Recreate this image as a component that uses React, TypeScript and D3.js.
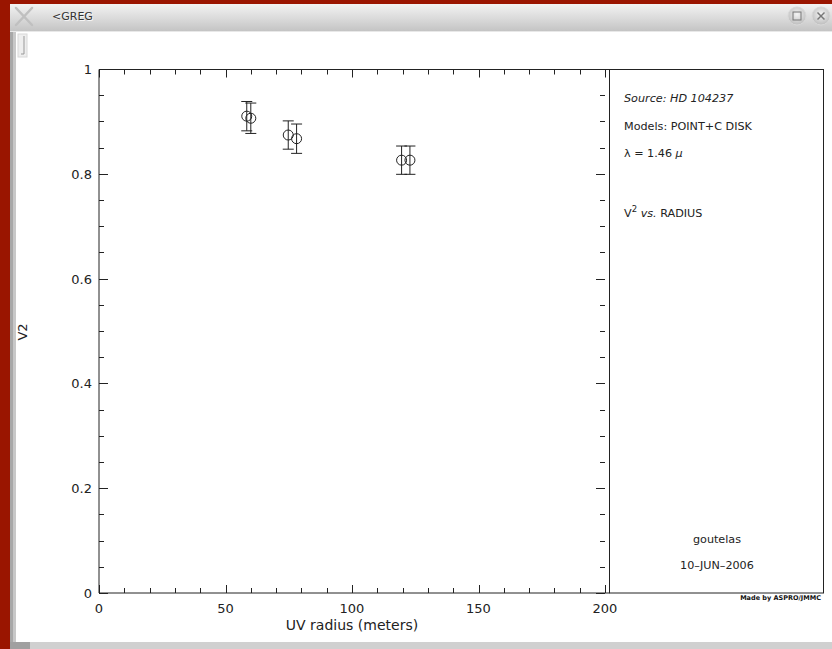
import * as d3 from 'd3';
import React from 'react';

// measured points (V^2 vs UV radius)
const uvRadius = [58.4, 60.0, 74.8, 78.1, 119.6, 122.9];
const v2 = [0.910, 0.906, 0.874, 0.867, 0.826, 0.826];
const v2Err = [0.028, 0.029, 0.027, 0.028, 0.027, 0.027];

const xMajor = [0, 50, 100, 150, 200];
const yMajor = [0, 0.2, 0.4, 0.6, 0.8, 1];
const yLabels = ['0', '0.2', '0.4', '0.6', '0.8', '1'];

const panelLines = ['Source: HD 104237', 'Models: POINT+C DISK'];
const footLines = ['goutelas', '10\u2013JUN\u20132006'];

const W = 832;
const H = 649;
const font = "'DejaVu Sans', sans-serif";

function App() {
  const x = d3.scaleLinear().domain([0, 200]).range([99, 605]);
  const y = d3.scaleLinear().domain([0, 1]).range([593, 69]);
  const xMinor = d3.range(0, 201, 10);
  const yMinor = d3.range(0, 1.001, 0.05);
  const isMajorX = (v: number) => Math.abs(v % 50) < 1e-6;
  const isMajorY = (v: number) => Math.abs(Math.round(v * 5) - v * 5) < 1e-6;
  const left = 99, right = 609.5, top = 69.5, bottom = 593;
  const ink = '#222';

  return (
    <div style={{ position: 'absolute', left: 0, top: 0 }}>
      <svg width={W} height={H} style={{ display: 'block' }}>
        <defs>
          <linearGradient id="tbar" x1="0" y1="0" x2="0" y2="1">
            <stop offset="0" stopColor="#f2f2f2" />
            <stop offset="0.5" stopColor="#dcdcdc" />
            <stop offset="1" stopColor="#c4c4c4" />
          </linearGradient>
          <radialGradient id="btn" cx="0.5" cy="0.4" r="0.6">
            <stop offset="0" stopColor="#f4f4f4" />
            <stop offset="1" stopColor="#bdbdbd" />
          </radialGradient>
        </defs>
        {/* window chrome */}
        <rect x={0} y={0} width={W} height={H} fill="#9a1500" />
        <rect x={10} y={4} width={W - 10} height={H - 4} fill="#c8c8c8" />
        <rect x={10} y={4} width={W - 10} height={27} fill="url(#tbar)" />
        <line x1={10} y1={31.5} x2={W} y2={31.5} stroke="#e8e8e8" />
        <rect x={16} y={32} width={W - 16} height={610} fill="#ffffff" />
        <rect x={10} y={32} width={3} height={610} fill="#a8a8a8" />
        <rect x={16} y={642} width={W - 16} height={7} fill="#d0d0d0" />
        <rect x={10} y={642} width={20} height={7} fill="#a0a0a0" />
        <rect x={18} y={34} width={9} height={23} fill="#eeeeee" stroke="#d8d8d8" />
        <line x1={24} y1={36} x2={24} y2={54} stroke="#999" />
        <line x1={21} y1={54} x2={24} y2={54} stroke="#999" />
        <g stroke="#c0c0c0" strokeWidth={2.5} strokeLinecap="round">
          <line x1={16} y1={8} x2={32} y2={25} />
          <line x1={32} y1={8} x2={16} y2={25} />
        </g>
        <text x={53} y={21} fontFamily={font} fontSize={11} fill="#fff" opacity={0.8}>&lt;GREG</text>
        <text x={52} y={20} fontFamily={font} fontSize={11} fill="#333">&lt;GREG</text>
        {[797, 821].map((cx, i) => (
          <g key={i}>
            <circle cx={cx} cy={16} r={9} fill="url(#btn)" stroke="#d8d8d8" />
            {i === 0 ? (
              <rect x={cx - 4} y={12} width={8} height={8} fill="none" stroke="#777" />
            ) : (
              <g stroke="#777" strokeWidth={1.5}>
                <line x1={cx - 3.5} y1={12.5} x2={cx + 3.5} y2={19.5} />
                <line x1={cx + 3.5} y1={12.5} x2={cx - 3.5} y2={19.5} />
              </g>
            )}
          </g>
        ))}

        {/* frame */}
        <g stroke={ink} strokeWidth={1} fill="none">
          <line x1={left} y1={top} x2={right} y2={top} />
          <line x1={left} y1={bottom} x2={right} y2={bottom} />
          <line x1={left} y1={top} x2={left} y2={bottom} />
          <rect x={right} y={top} width={823.5 - right} height={bottom - top} />
        </g>

        {/* ticks on all four sides */}
        <g stroke={ink} strokeWidth={1}>
          {xMinor.map((v) => {
            const len = isMajorX(v) ? 8 : 5;
            const px = Math.round(x(v)) + 0.5;
            return (
              <g key={'x' + v}>
                <line x1={px} y1={bottom} x2={px} y2={bottom - len} />
                <line x1={px} y1={top} x2={px} y2={top + len} />
              </g>
            );
          })}
          {yMinor.map((v) => {
            const len = isMajorY(v) ? 9 : 5;
            const py = Math.round(y(v)) + 0.5;
            return (
              <g key={'y' + v}>
                <line x1={left} y1={py} x2={left + len} y2={py} />
                <line x1={605} y1={py} x2={605 - len} y2={py} />
              </g>
            );
          })}
        </g>

        {/* tick labels */}
        <g fontFamily={font} fontSize={13} fill={ink}>
          {xMajor.map((v) => (
            <text key={v} x={x(v)} y={613} textAnchor="middle">{v}</text>
          ))}
          {yMajor.map((v, i) => (
            <text key={v} x={92} y={y(v) + 5} textAnchor="end">{yLabels[i]}</text>
          ))}
        </g>
        <text x={352} y={630} textAnchor="middle" fontFamily={font} fontSize={14} fill={ink}>UV radius (meters)</text>
        <text transform="translate(27,332) rotate(-90)" textAnchor="middle" fontFamily={font} fontSize={13} fill={ink}>V2</text>

        {/* data with error bars */}
        <g stroke={ink} strokeWidth={1} fill="none">
          {uvRadius.map((r, i) => {
            const cx = x(r);
            const y0 = y(v2[i] - v2Err[i]);
            const y1 = y(v2[i] + v2Err[i]);
            return (
              <g key={i}>
                <line x1={cx} y1={y0} x2={cx} y2={y1} />
                <line x1={cx - 5.5} y1={y0} x2={cx + 5.5} y2={y0} />
                <line x1={cx - 5.5} y1={y1} x2={cx + 5.5} y2={y1} />
                <circle cx={cx} cy={y(v2[i])} r={5} />
              </g>
            );
          })}
        </g>

        {/* info panel */}
        <g fontFamily={font} fontSize={11.2} fill={ink}>
          <text x={624} y={102} fontStyle="italic">{panelLines[0]}</text>
          <text x={624} y={130}>{panelLines[1]}</text>
          <text x={624} y={157}>
            {'\u03bb = 1.46 '}<tspan fontStyle="italic">{'\u03bc'}</tspan>
          </text>
          <text x={624} y={217}>
            V<tspan fontSize={8.5} dy={-5}>2</tspan><tspan dy={5} fontStyle="italic">{' vs.'}</tspan>{' RADIUS'}
          </text>
          <text x={717} y={543} textAnchor="middle">{footLines[0]}</text>
          <text x={717} y={569} textAnchor="middle">{footLines[1]}</text>
        </g>
        <text x={821} y={600} textAnchor="end" fontFamily={font} fontSize={6.5} fontWeight="bold" fill="#111">Made by ASPRO/JMMC</text>
      </svg>
    </div>
  );
}

export default App;
